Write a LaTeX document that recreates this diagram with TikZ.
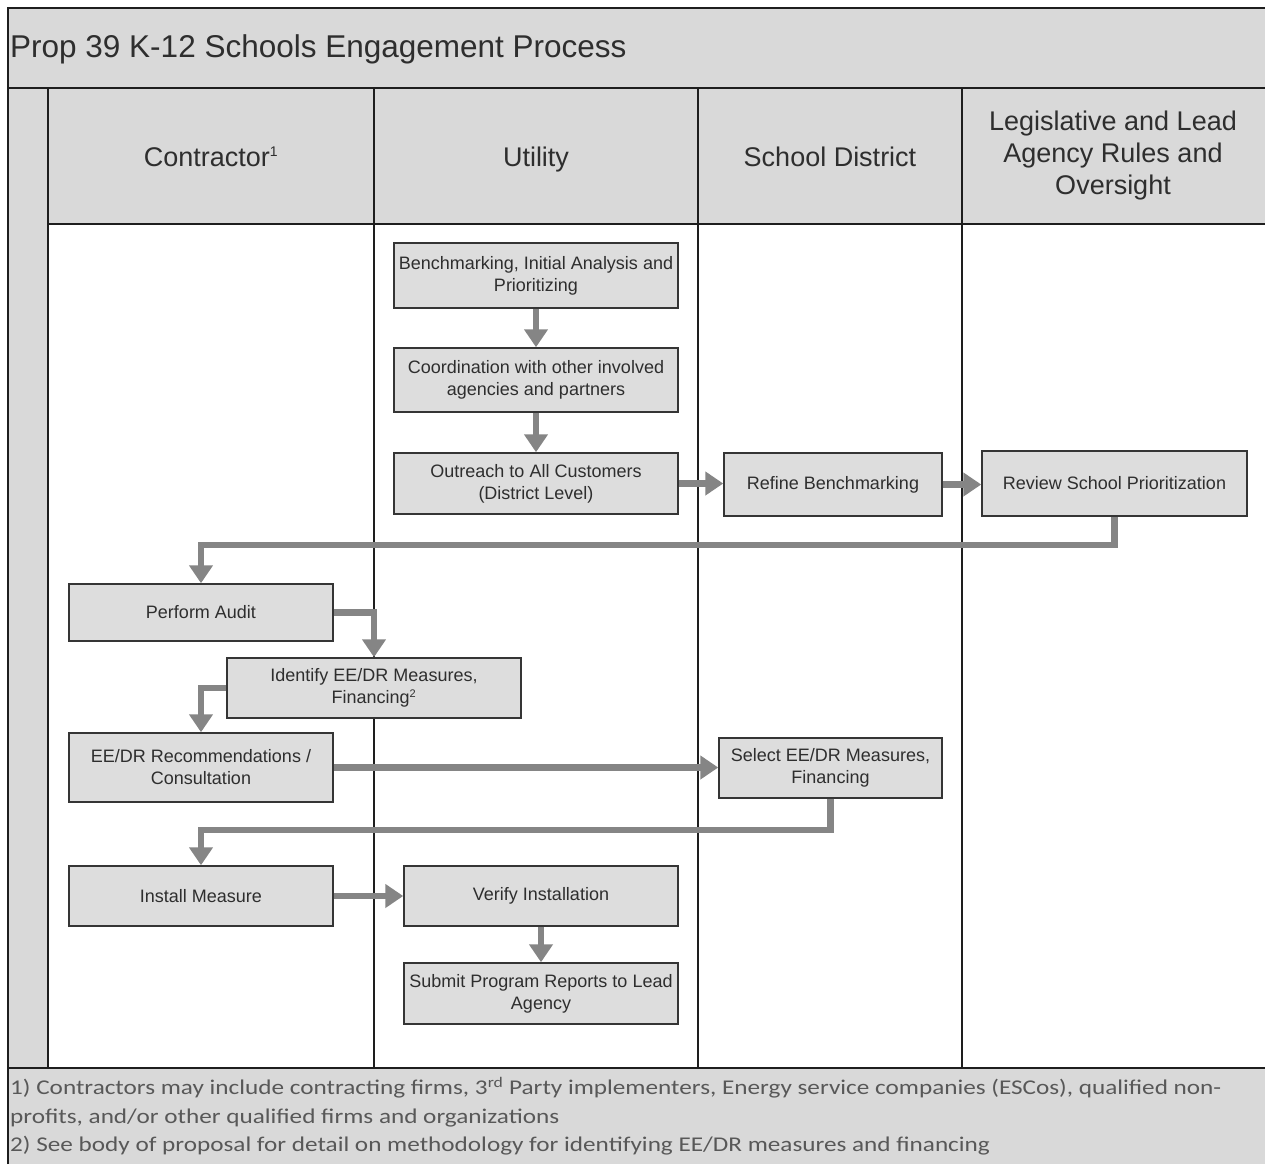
\documentclass[tikz,border=0pt]{standalone}
\usepackage{fontspec}
\setmainfont{Liberation Sans}
\newfontfamily\notefont[FakeStretch=1.2]{Carlito}
\usetikzlibrary{arrows.meta}
\definecolor{bandgray}{HTML}{D9D9D9}
\definecolor{boxgray}{HTML}{DDDDDD}
\definecolor{arrgray}{HTML}{858585}
\definecolor{txtgray}{HTML}{2E2E2E}
\definecolor{linegray}{HTML}{1E1E1E}
\tikzset{
  lane/.style={draw=linegray, line width=1.4pt},
  procbox/.style={draw=linegray!90, line width=1.5pt, fill=boxgray, text=txtgray,
    align=center, inner sep=2pt, font=\fontsize{18}{22}\selectfont},
  arr/.style={draw=arrgray, line width=6.5pt, line join=miter,
    -{Triangle[width=23pt,length=18pt]}},
  headtxt/.style={text=txtgray, align=center, font=\fontsize{27}{32}\selectfont},
}
\begin{document}
\begin{tikzpicture}[x=1pt,y=-1pt]
\useasboundingbox (0,0) rectangle (1265,1164);
% backgrounds
\fill[white] (0,0) rectangle (1265,1164);
\fill[bandgray] (8,8) rectangle (1265,224);
\fill[bandgray] (8,224) rectangle (48,1068);
\fill[bandgray] (8,1068) rectangle (1265,1164);
% grid lines
\draw[lane] (8,1164) -- (8,8) -- (1265,8);
\draw[lane] (8,88) -- (1265,88);
\draw[lane] (48,224) -- (1265,224);
\draw[lane] (8,1068) -- (1265,1068);
\draw[lane] (48,88) -- (48,1068);
\draw[lane] (374,88) -- (374,1068);
\draw[lane] (698,88) -- (698,1068);
\draw[lane] (962,88) -- (962,1068);
% title
\node[anchor=base west, text=txtgray, font=\fontsize{31.5}{34}\selectfont, inner sep=0pt] (title) at (10,58) {Prop 39 K-12 Schools Engagement Process};
% headers
\node[headtxt, anchor=base] (hcon) at (211,166) {Contractor\textsuperscript{\fontsize{14}{14}\selectfont 1}};
\node[headtxt, anchor=base] (hutil) at (536,166) {Utility};
\node[headtxt, anchor=base] (hsd) at (830,166) {School District};
\node[headtxt] (hleg) at (1113,156) {Legislative and Lead\\Agency Rules and\\Oversight};
% boxes
\node[procbox, minimum width=284pt, minimum height=65pt] (b1) at (536,275.5) {Benchmarking, Initial Analysis and\\Prioritizing};
\node[procbox, minimum width=284pt, minimum height=64pt] (b2) at (536,380) {Coordination with other involved\\agencies and partners};
\node[procbox, minimum width=284pt, minimum height=61pt] (b3) at (536,483.5) {Outreach to All Customers\\(District Level)};
\node[procbox, minimum width=218pt, minimum height=63pt] (b4) at (833,484.5) {Refine Benchmarking};
\node[procbox, minimum width=265pt, minimum height=65pt] (b5) at (1114.5,483.5) {Review School Prioritization};
\node[procbox, minimum width=264pt, minimum height=57pt] (b6) at (201,612.5) {Perform Audit};
\node[procbox, minimum width=294pt, minimum height=60pt] (b7) at (374,688) {Identify EE/DR Measures,\\Financing\textsuperscript{\fontsize{11}{11}\selectfont 2}};
\node[procbox, minimum width=264pt, minimum height=69pt] (b8) at (201,767.5) {EE/DR Recommendations /\\Consultation};
\node[procbox, minimum width=223pt, minimum height=60pt] (b9) at (830.5,768) {Select EE/DR Measures,\\Financing};
\node[procbox, minimum width=264pt, minimum height=60pt] (b10) at (201,896) {Install Measure};
\node[procbox, minimum width=274pt, minimum height=60pt] (b11) at (541,896) {Verify Installation};
\node[procbox, minimum width=274pt, minimum height=61pt] (b12) at (541,993.5) {Submit Program Reports to Lead\\Agency};
% turning points
\coordinate (t1) at (201,545);
\coordinate (t2) at (201,830);
% connectors
\draw[arr] (b1.south) -- (b2.north);
\draw[arr] (b2.south) -- (b3.north);
\draw[arr] (b3.east) -- (b3.east -| b4.west);
\draw[arr] (b4.east) -- (b4.east -| b5.west);
\draw[arr] (b5.south) |- (t1) -- (b6.north);
\draw[arr] (b6.east) -| (b7.north);
\draw[arr] (b7.west) -| (b8.north);
\draw[arr] (b8.east) -- (b8.east -| b9.west);
\draw[arr] (b9.south) |- (t2) -- (b10.north);
\draw[arr] (b10.east) -- (b10.east -| b11.west);
\draw[arr] (b11.south) -- (b12.north);
% footnotes
\node[anchor=north west, align=left, inner sep=0pt, text=txtgray!80, font=\notefont\fontsize{21}{28.5}\selectfont] (notes) at (10,1077)
{1) Contractors may include contracting firms, 3\textsuperscript{rd} Party implementers, Energy service companies (ESCos), qualified non-\\
profits, and/or other qualified firms and organizations\\
2) See body of proposal for detail on methodology for identifying EE/DR measures and financing};
\end{tikzpicture}
\end{document}
